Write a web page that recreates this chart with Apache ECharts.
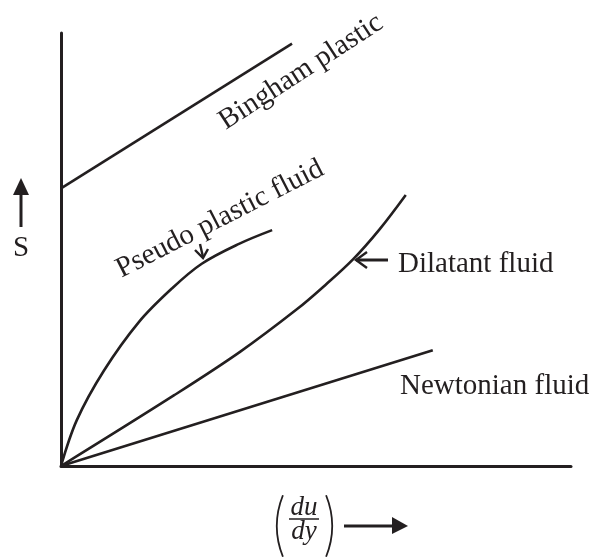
<!DOCTYPE html>
<html>
<head>
<meta charset="utf-8">
<script src="https://cdn.jsdelivr.net/npm/echarts@6/dist/echarts.min.js"></script>
<style>
  html, body { margin: 0; padding: 0; background: #fff; }
  #chart { width: 590px; height: 558px; }
</style>
</head>
<body>
<div id="chart"></div>
<script>
// axis extents (arbitrary units, no ticks shown)
const xMax = 10
const yMax = 8.5

// curves: [rate of shear, shear stress]
const bingham = [[0, 5.45], [4.53, 8.29]]
const pseudoPlastic = [[0, 0], [0.31, 0.9], [0.84, 1.87], [1.53, 2.83], [2.18, 3.49], [2.76, 3.97], [3.49, 4.36], [4.14, 4.63]]
const dilatant = [[0, 0], [2.22, 1.39], [3.51, 2.24], [4.63, 3.08], [5.18, 3.55], [5.73, 4.06], [6.25, 4.65], [6.76, 5.32]]
const newtonian = [[0, 0], [7.29, 2.27]]

const ink = '#231f20'
const serif = '"Liberation Serif", "Times New Roman", serif'
const font = '29px ' + serif
const deg = d => d * Math.PI / 180

const curve = (name, data, smooth) => ({
  name,
  type: 'line',
  data,
  smooth,
  showSymbol: false,
  silent: true,
  lineStyle: { color: ink, width: 2.6 }
})

const label = (text, x, y, rot, align) => ({
  type: 'text',
  x, y,
  rotation: rot ? deg(rot) : 0,
  style: { text, fill: ink, font, align: align || 'center', verticalAlign: 'middle' }
})

const stroke = { stroke: ink, lineWidth: 2.4 }

const option = {
  backgroundColor: '#fff',
  animation: false,
  grid: { left: 61, right: 19, top: 33, bottom: 92 },
  xAxis: {
    type: 'value', min: 0, max: xMax,
    axisLine: { lineStyle: { color: ink, width: 3 } },
    axisTick: { show: false }, axisLabel: { show: false }, splitLine: { show: false }
  },
  yAxis: {
    type: 'value', min: 0, max: yMax,
    axisLine: { show: true, lineStyle: { color: ink, width: 3 } },
    axisTick: { show: false }, axisLabel: { show: false }, splitLine: { show: false }
  },
  series: [
    curve('Bingham plastic', bingham, false),
    curve('Pseudo plastic fluid', pseudoPlastic, 0.35),
    curve('Dilatant fluid', dilatant, 0.35),
    curve('Newtonian fluid', newtonian, false)
  ],
  graphic: [
    label('Bingham plastic', 301, 72, 33),
    label('Pseudo plastic fluid', 220, 219, 27),
    label('Dilatant fluid', 398, 264, 0, 'left'),
    label('Newtonian fluid', 400, 386, 0, 'left'),
    label('S', 21, 248),

    // S arrow (up)
    { type: 'line', shape: { x1: 21, y1: 227, x2: 21, y2: 192 }, style: { stroke: ink, lineWidth: 3 } },
    { type: 'polygon', shape: { points: [[13, 195], [29, 195], [21, 178]] }, style: { fill: ink } },

    // pointer to pseudo plastic curve
    { type: 'line', shape: { x1: 200, y1: 244, x2: 203, y2: 257 }, style: stroke },
    { type: 'polyline', shape: { points: [[195, 250], [203, 258], [208, 249]] }, style: Object.assign({ fill: null }, stroke) },

    // pointer to dilatant curve
    { type: 'line', shape: { x1: 388, y1: 260, x2: 356, y2: 260 }, style: { stroke: ink, lineWidth: 3 } },
    { type: 'polyline', shape: { points: [[367, 252], [356, 260], [367, 268]] }, style: Object.assign({ fill: null }, stroke) },

    // (du/dy) with arrow
    { type: 'arc', shape: { cx: 360, cy: 526, r: 83, startAngle: Math.PI - 0.38, endAngle: Math.PI + 0.38 }, style: { stroke: ink, lineWidth: 1.8, fill: null } },
    { type: 'arc', shape: { cx: 249, cy: 526, r: 83, startAngle: -0.38, endAngle: 0.38 }, style: { stroke: ink, lineWidth: 1.8, fill: null } },
    { type: 'text', x: 304, y: 508, style: { text: 'du', fill: ink, font: 'italic 27px ' + serif, align: 'center', verticalAlign: 'middle' } },
    { type: 'line', shape: { x1: 289, y1: 519, x2: 319, y2: 519 }, style: { stroke: ink, lineWidth: 1.5 } },
    { type: 'text', x: 304, y: 532, style: { text: 'dy', fill: ink, font: 'italic 27px ' + serif, align: 'center', verticalAlign: 'middle' } },
    { type: 'line', shape: { x1: 344, y1: 526, x2: 394, y2: 526 }, style: { stroke: ink, lineWidth: 3 } },
    { type: 'polygon', shape: { points: [[392, 517], [408, 526], [392, 534]] }, style: { fill: ink } }
  ]
}

const chart = echarts.init(document.getElementById('chart'))
chart.setOption(option)
</script>
</body>
</html>
